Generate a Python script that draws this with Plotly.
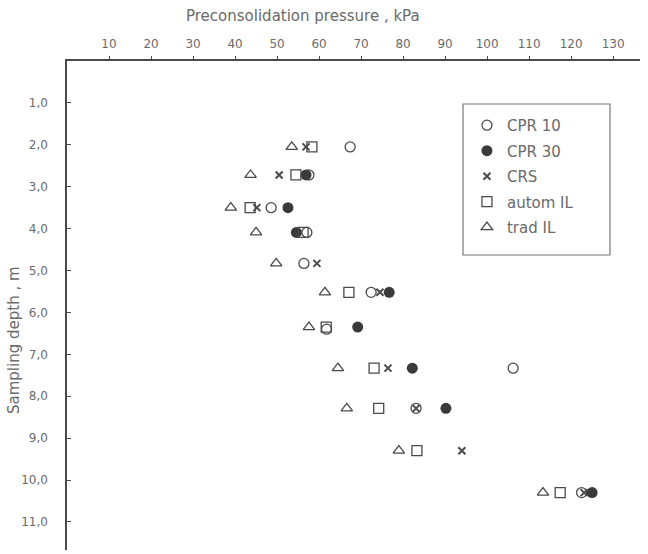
import plotly.graph_objects as go

# ---- data ----
cpr10_depth = [2.05, 2.72, 3.50, 4.09, 4.83, 5.52, 6.40, 7.33, 8.29, 10.30]
cpr10_press = [67.4, 57.6, 48.6, 57.1, 56.4, 72.4, 61.8, 106.2, 83.1, 122.5]

cpr30_depth = [2.72, 3.50, 4.09, 5.52, 6.35, 7.33, 8.29, 10.30]
cpr30_press = [56.9, 52.6, 54.6, 76.7, 69.2, 82.2, 90.2, 125.0]

crs_depth = [2.05, 2.72, 3.50, 4.83, 5.52, 7.33, 8.29, 9.30, 10.30]
crs_press = [56.9, 50.5, 45.2, 59.5, 74.5, 76.4, 83.1, 94.0, 123.1]

autom_depth = [2.05, 2.72, 3.50, 4.09, 5.52, 6.35, 7.33, 8.29, 9.30, 10.30]
autom_press = [58.3, 54.5, 43.6, 56.2, 67.1, 61.7, 73.1, 74.2, 83.3, 117.4]

trad_depth = [2.05, 2.72, 3.50, 4.09, 4.83, 5.52, 6.35, 7.33, 8.29, 9.30, 10.30]
trad_press = [53.5, 43.7, 39.0, 45.0, 49.8, 61.4, 57.6, 64.5, 66.6, 79.0, 113.3]

x_ticks = [10, 20, 30, 40, 50, 60, 70, 80, 90, 100, 110, 120, 130]
y_ticks = [1, 2, 3, 4, 5, 6, 7, 8, 9, 10, 11]
y_ticktext = ["1,0", "2,0", "3,0", "4,0", "5,0", "6,0", "7,0", "8,0", "9,0", "10,0", "11,0"]

ink = "#4a4a4a"
txt = "#6a6a6a"
FONT = "DejaVu Sans"

fig = go.Figure()
series = [
    ("CPR 10", cpr10_press, cpr10_depth, dict(symbol="circle-open", size=10, color=ink, line=dict(width=1.3, color=ink))),
    ("CPR 30", cpr30_press, cpr30_depth, dict(symbol="circle", size=11, color="#3a3a3a", line=dict(width=0))),
    ("CRS", crs_press, crs_depth, dict(symbol="x-thin", size=7, color=ink, line=dict(width=2, color=ink))),
    ("autom IL", autom_press, autom_depth, dict(symbol="square-open", size=10, color=ink, line=dict(width=1.3, color=ink))),
    ("trad IL", trad_press, trad_depth, dict(symbol="triangle-up-open", size=10, color=ink, line=dict(width=1.3, color=ink))),
]
for i, (name, xs, ys, mk) in enumerate(series):
    fig.add_trace(go.Scatter(x=xs, y=ys, mode="markers", name=name, marker=mk,
                             legendgroup=f"g{i}", cliponaxis=False))

fig.update_layout(
    width=648, height=554,
    margin=dict(l=67, r=8, t=61, b=4),
    paper_bgcolor="white", plot_bgcolor="white",
    font=dict(family=FONT, color=txt, size=12),
    showlegend=True,
    legend=dict(x=0.698, y=0.902, xanchor="left", yanchor="top",
                bgcolor="rgba(0,0,0,0)", borderwidth=0,
                font=dict(family=FONT, size=15, color=txt),
                tracegroupgap=3, itemwidth=30),
    xaxis=dict(side="top", range=[0, 136.4], tickvals=x_ticks,
               showgrid=False, zeroline=False, showline=True, linecolor=ink, linewidth=1.5,
               ticks="outside", ticklen=3, tickcolor=ink, ticklabelstandoff=3,
               tickfont=dict(family=FONT, size=12, color=txt)),
    yaxis=dict(range=[11.67, 0], tickvals=y_ticks, ticktext=y_ticktext,
               showgrid=False, zeroline=False, showline=True, linecolor=ink, linewidth=1.5,
               ticks="inside", ticklen=4, tickcolor=ink, ticklabelstandoff=15,
               tickfont=dict(family=FONT, size=12, color=txt)),
    shapes=[dict(type="rect", xref="paper", yref="paper",
                 x0=(463 - 67) / 573, x1=(610 - 67) / 573,
                 y0=1 - (255 - 61) / 489, y1=1 - (104 - 61) / 489,
                 line=dict(color="#777", width=1.2))],
    annotations=[
        dict(text="Preconsolidation pressure , kPa", xref="paper", yref="paper",
             x=(303 - 67) / 573, y=1 + (61 - 16) / 489, xanchor="center", yanchor="middle",
             showarrow=False, font=dict(family=FONT, size=15, color=txt)),
        dict(text="Sampling depth , m", xref="paper", yref="paper", textangle=-90,
             x=(14 - 67) / 573, y=1 - (340 - 61) / 489, xanchor="center", yanchor="middle",
             showarrow=False, font=dict(family=FONT, size=15, color=txt)),
    ],
)

fig.write_html("out.html", config={"displayModeBar": False},
               post_script="document.body.style.margin='0';document.body.style.padding='0';")
